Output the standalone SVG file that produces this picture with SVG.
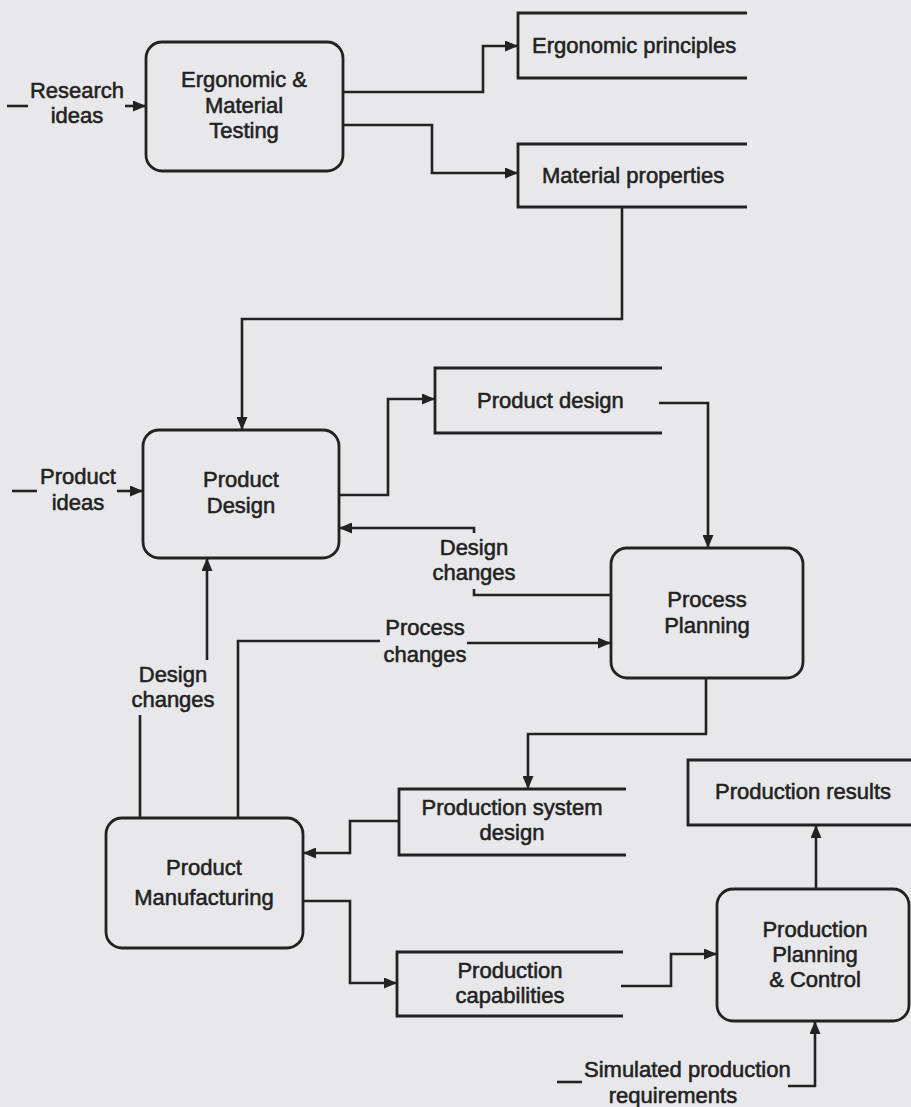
<svg xmlns="http://www.w3.org/2000/svg" width="911" height="1107" viewBox="0 0 911 1107">
<style>
.bg{fill:#e8e8ea}
.box{fill:none;stroke:#222;stroke-width:2.8}
.store{fill:none;stroke:#222;stroke-width:2.8}
.ln{fill:none;stroke:#222;stroke-width:2.6}
.arr{fill:none;stroke:#222;stroke-width:2.6;marker-end:url(#ah)}
text{font-family:"Liberation Sans",Arial,sans-serif;font-size:22px;fill:#222;stroke:#222;stroke-width:0.55}
.c{text-anchor:middle}
</style>
<defs>
<marker id="ah" viewBox="0 0 13 11" refX="13" refY="5.5" markerWidth="13" markerHeight="11" markerUnits="userSpaceOnUse" orient="auto">
<path d="M0,0 L13,5.5 L0,11 Z" fill="#222"/>
</marker>
</defs>
<rect class="bg" x="0" y="0" width="911" height="1107"/>

<g id="connectors">
<path class="ln" d="M7,106 H28"/>
<path class="arr" d="M125,106 H146"/>
<path class="arr" d="M343,92 H483 V46 H518"/>
<path class="arr" d="M343,125 H432 V173 H518"/>
<path class="arr" d="M622,207 V319 H242 V430"/>
<path class="ln" d="M12,491 H37"/>
<path class="arr" d="M117,491 H143"/>
<path class="arr" d="M339,495 H388 V399 H435"/>
<path class="arr" d="M659,403 H708 V548"/>
<path class="ln" d="M611,595 H474 V589"/>
<path class="arr" d="M474,533 V528 H339"/>
<path class="ln" d="M140,818 V715"/>
<path class="arr" d="M207,660 V558"/>
<path class="ln" d="M238,818 V641 H380"/>
<path class="arr" d="M467,643 H611"/>
<path class="arr" d="M706,678 V734 H528 V789"/>
<path class="arr" d="M399,821 H350 V853 H303"/>
<path class="arr" d="M303,901 H350 V983 H397"/>
<path class="arr" d="M621,986 H671 V954 H717"/>
<path class="arr" d="M816,889 V825"/>
<path class="ln" d="M557,1082 H582"/>
<path class="arr" d="M788,1086 H815 V1021"/>
</g>

<g id="research-ideas">
<text class="c" x="77" y="98">Research</text>
<text class="c" x="77" y="123">ideas</text>
</g>

<g id="ergo-testing">
<rect class="box" x="146" y="42" width="197" height="129" rx="16"/>
<text class="c" x="244" y="87">Ergonomic &amp;</text>
<text class="c" x="244" y="113">Material</text>
<text class="c" x="244" y="138">Testing</text>
</g>

<g id="ergonomic-principles">
<path class="store" d="M747,13 H518 V78 H747"/>
<text x="532" y="53">Ergonomic principles</text>
</g>

<g id="material-properties">
<path class="store" d="M747,144 H518 V207 H747"/>
<text x="542" y="183">Material properties</text>
</g>

<g id="product-ideas">
<text class="c" x="78" y="484">Product</text>
<text class="c" x="78" y="510">ideas</text>
</g>

<g id="product-design-box">
<rect class="box" x="143" y="430" width="196" height="128" rx="16"/>
<text class="c" x="241" y="487">Product</text>
<text class="c" x="241" y="513">Design</text>
</g>

<g id="product-design-store">
<path class="store" d="M662,368 H435 V433 H662"/>
<text x="477" y="408">Product design</text>
</g>

<g id="design-changes-1">
<text class="c" x="474" y="555">Design</text>
<text class="c" x="474" y="580">changes</text>
</g>

<g id="process-planning">
<rect class="box" x="611" y="548" width="192" height="130" rx="16"/>
<text class="c" x="707" y="607">Process</text>
<text class="c" x="707" y="633">Planning</text>
</g>

<g id="design-changes-2">
<text class="c" x="173" y="682">Design</text>
<text class="c" x="173" y="707">changes</text>
</g>

<g id="process-changes">
<text class="c" x="425" y="635">Process</text>
<text class="c" x="425" y="662">changes</text>
</g>

<g id="product-manufacturing">
<rect class="box" x="106" y="818" width="197" height="130" rx="16"/>
<text class="c" x="204" y="875">Product</text>
<text class="c" x="204" y="905">Manufacturing</text>
</g>

<g id="production-system-design">
<path class="store" d="M626,789 H399 V855 H626"/>
<text class="c" x="512" y="815">Production system</text>
<text class="c" x="512" y="840">design</text>
</g>

<g id="production-results">
<path class="store" d="M912,760 H688 V825 H912"/>
<text x="715" y="799">Production results</text>
</g>

<g id="production-planning-control">
<rect class="box" x="717" y="889" width="192" height="132" rx="16"/>
<text class="c" x="815" y="937">Production</text>
<text class="c" x="815" y="962">Planning</text>
<text class="c" x="815" y="987">&amp; Control</text>
</g>

<g id="production-capabilities">
<path class="store" d="M623,952 H397 V1016 H623"/>
<text class="c" x="510" y="978">Production</text>
<text class="c" x="510" y="1003">capabilities</text>
</g>

<g id="simulated-requirements">
<text x="584" y="1077">Simulated production</text>
<text class="c" x="673" y="1103">requirements</text>
</g>
</svg>
